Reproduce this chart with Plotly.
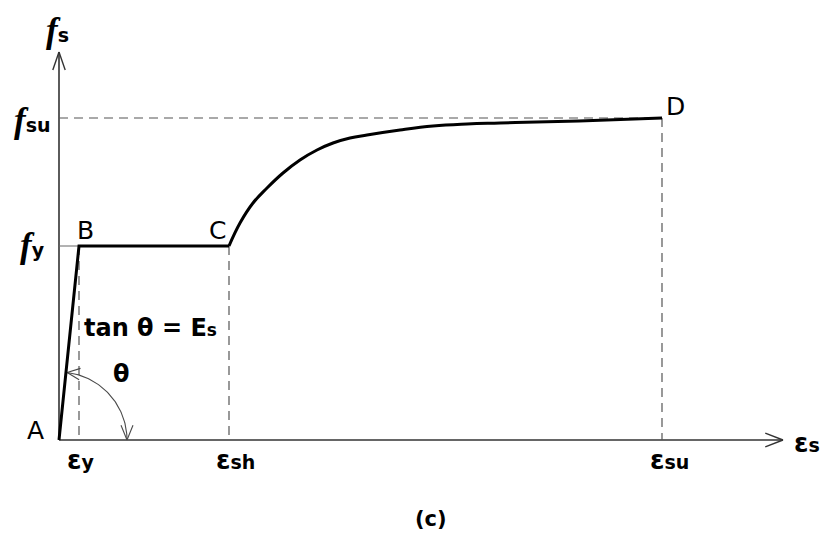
import numpy as np
import plotly.graph_objects as go

# Idealised steel stress-strain curve (arbitrary units)
eps_y, eps_sh, eps_su = 20, 170, 603          # strain markers on the horizontal axis
f_y, f_su = 194, 322                          # stress markers on the vertical axis

# elastic + yield plateau: A -> B -> C
plateau_eps = [0, eps_y, eps_sh]
plateau_f = [0, f_y, f_y]

# strain-hardening branch: C -> D
hard_eps = [170, 181, 194, 208, 224, 241, 258, 274, 291, 308, 341, 374, 408, 441, 520, 603]
hard_f = [194, 217, 237, 252, 267, 280, 290, 297, 302, 305, 310, 314, 316, 317, 319, 322]

# axis extents and theta arc radius
x_end, y_end = 724, 388
arc_r = 68

BLACK = "#000000"
AXIS = "#333333"
DASH = "#555555"
DASHSTYLE = "9px,6px"

fig = go.Figure()


def line(xs, ys, color, width, dash="solid", shape="linear", smoothing=1.0):
    ln = dict(color=color, width=width, dash=dash, shape=shape)
    if shape == "spline":
        ln["smoothing"] = smoothing
    fig.add_trace(go.Scatter(x=xs, y=ys, mode="lines", hoverinfo="skip", line=ln))


def open_head(tip, direction, length, half_angle_deg):
    """Two arms of an open arrowhead pointing along `direction` at `tip`."""
    d = np.asarray(direction, float)
    d = d / np.linalg.norm(d)
    back = -d
    xs, ys = [], []
    for s in (1, -1):
        a = np.radians(half_angle_deg) * s
        rot = np.array([back[0] * np.cos(a) - back[1] * np.sin(a),
                        back[0] * np.sin(a) + back[1] * np.cos(a)])
        p = np.asarray(tip, float) + rot * length
        xs += [p[0], tip[0], None]
        ys += [p[1], tip[1], None]
    return xs, ys


# axes with open arrowheads
line([0, 0], [0, y_end], AXIS, 1.6)
line([0, x_end], [0, 0], AXIS, 1.6)
hx, hy = open_head((0, y_end), (0, 1), 19, 19)
line(hx, hy, AXIS, 1.4)
hx, hy = open_head((x_end, 0), (1, 0), 19, 21)
line(hx, hy, AXIS, 1.4)

# guide lines
line([0, eps_y], [f_y, f_y], "#666666", 1)
line([0, eps_su], [f_su, f_su], DASH, 1.2, DASHSTYLE)
for e, f in ((eps_y, f_y), (eps_sh, f_y), (eps_su, f_su)):
    line([e, e], [f, 0], DASH, 1.2, DASHSTYLE)

# theta arc centred on A, from the elastic line down to the strain axis
theta_top = np.degrees(np.arctan2(f_y, eps_y)) - 1
ang = np.radians(np.linspace(theta_top, 0, 60))
line(arc_r * np.cos(ang), arc_r * np.sin(ang), "#4a4a4a", 1.1)
t0 = np.radians(theta_top)
hx, hy = open_head((arc_r * np.cos(t0), arc_r * np.sin(t0)), (-np.sin(t0), np.cos(t0)), 14, 24)
line(hx, hy, "#4a4a4a", 1.1)
hx, hy = open_head((arc_r, 0), (0, -1), 16, 22)
line(hx, hy, "#4a4a4a", 1.1)

# stress-strain curve
line(plateau_eps, plateau_f, BLACK, 3)
line(hard_eps, hard_f, BLACK, 3, shape="spline", smoothing=1.2)

SANS = "DejaVu Sans"
F_SPAN = "<span style='font-family:Liberation Serif;font-style:italic;font-weight:bold;font-size:35px'>f</span>"


def sub(txt, size=19):
    return f"<span style='font-family:{SANS};font-weight:bold;font-size:{size}px'>{txt}</span>"


def eps(txt):
    return f"<span style='font-family:{SANS};font-weight:bold;font-size:26px'>ε</span>" + sub(txt)


def label(x, y, text, size=25, bold=False, xanchor="center"):
    fig.add_annotation(x=x, y=y, text=text, showarrow=False, xanchor=xanchor, yanchor="middle",
                       font=dict(family=SANS, size=size, color=BLACK,
                                 weight="bold" if bold else "normal"))


# point labels
label(-24, 10, "A")
label(26, 210, "B")
label(158, 210, "C")
label(616, 334, "D")

# stress labels
label(-2, 410, F_SPAN + sub("s"))
label(-27, 320, F_SPAN + sub("su"))
label(-27, 195, F_SPAN + sub("y"))

# strain labels
label(eps_y + 1, -20, eps("y"))
label(eps_sh + 6, -20, eps("sh"))
label(eps_su + 7, -20, eps("su"))
label(748, -3, eps("s"))

# annotations on the plot
label(23, 112, "tan θ = E" + sub("s", 17), size=24, bold=True, xanchor="left")
label(62, 66, "θ", size=24, bold=True)
label(372, -79, "(c)", size=21, bold=True)

fig.update_layout(
    width=830, height=535, autosize=False,
    margin=dict(l=0, r=0, t=0, b=0),
    paper_bgcolor="white", plot_bgcolor="white",
    showlegend=False,
    xaxis=dict(range=[-59, 771], visible=False, fixedrange=True),
    yaxis=dict(range=[-95, 440], visible=False, fixedrange=True),
)

fig.write_html("out.html")
